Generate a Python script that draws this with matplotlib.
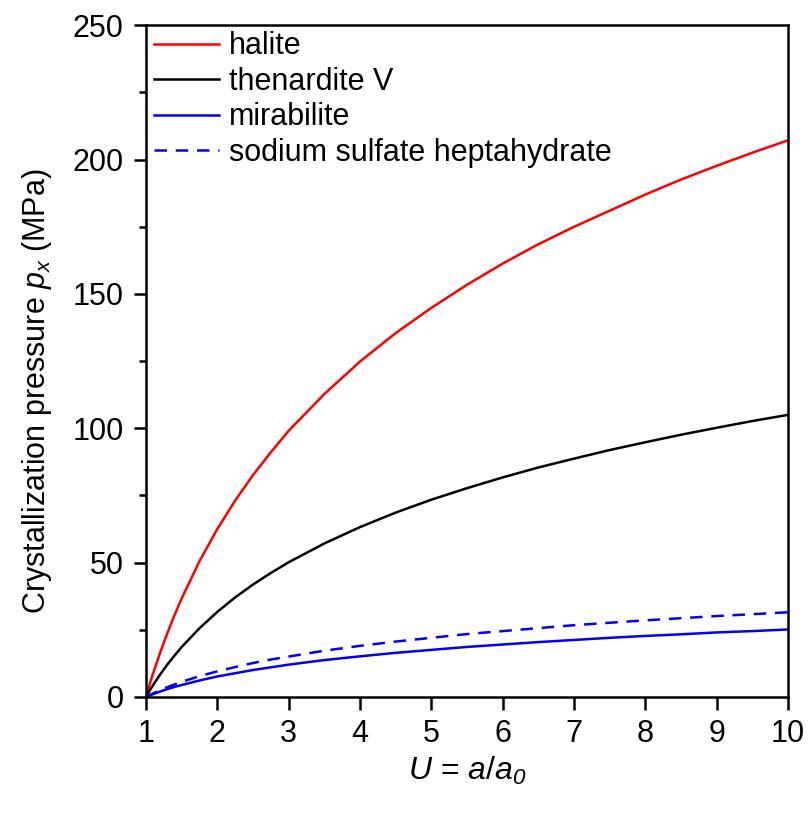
import numpy as np
import matplotlib
matplotlib.use('Agg')
import matplotlib.pyplot as plt
from matplotlib.ticker import MultipleLocator

plt.rcParams['font.family'] = ['Liberation Sans', 'DejaVu Sans']
plt.rcParams['mathtext.fontset'] = 'custom'
plt.rcParams['mathtext.it'] = 'Liberation Sans:italic'
plt.rcParams['mathtext.rm'] = 'Liberation Sans'
plt.rcParams['mathtext.sf'] = 'Liberation Sans:italic'

# values
U = [1, 1.1, 1.2, 1.3, 1.4, 1.5, 1.75, 2, 2.25, 2.5, 2.75, 3, 3.5, 4, 4.5,
     5, 5.5, 6, 6.5, 7, 7.5, 8, 8.5, 9, 9.5, 10]
halite = [0, 8.6, 16.4, 23.6, 30.3, 36.5, 50.4, 62.4, 73, 82.5, 91, 99,
          112.7, 124.8, 135.4, 144.8, 153.4, 161.3, 168.5, 175, 181, 187,
          192.6, 197.7, 202.6, 207.2]
thenardite = [0, 4.3, 8.3, 12, 15.3, 18.5, 25.5, 31.6, 37, 41.8, 46.1, 50.1,
              57.1, 63.2, 68.6, 73.4, 77.7, 81.7, 85.4, 88.7, 91.9, 94.8,
              97.6, 100.2, 102.7, 105]
mirabilite = [0, 1, 2, 2.9, 3.7, 4.4, 6.1, 7.6, 8.8, 10, 11, 12, 13.7, 15.1,
              16.4, 17.5, 18.6, 19.5, 20.4, 21.2, 22, 22.7, 23.3, 24, 24.5, 25.1]
heptahydrate = [0, 1.3, 2.5, 3.6, 4.6, 5.6, 7.7, 9.5, 11.1, 12.6, 13.9, 15,
                17.2, 19, 20.6, 22, 23.4, 24.5, 25.6, 26.7, 27.6, 28.5, 29.3,
                30.1, 30.8, 31.5]

fig = plt.figure(figsize=(8.1, 8.17), dpi=100)
ax = fig.add_axes([0.180, 0.147, 0.793, 0.822])

ax.plot(U, halite, color='#ff0000', lw=1.8, label='halite')
ax.plot(U, thenardite, color='black', lw=1.8, label='thenardite V')
ax.plot(U, mirabilite, color='#0000ff', lw=1.8, label='mirabilite')
ax.plot(U, heptahydrate, color='#0000ff', lw=1.8, ls=(0, (5, 3.5)),
        label='sodium sulfate heptahydrate')

ax.set_xlim(1, 10)
ax.set_ylim(0, 250)
ax.xaxis.set_major_locator(MultipleLocator(1))
ax.yaxis.set_major_locator(MultipleLocator(50))
ax.yaxis.set_minor_locator(MultipleLocator(25))
ax.tick_params(which='both', direction='out', width=1.8, labelsize=22,
               top=False, right=False)
ax.tick_params(which='major', length=9)
ax.tick_params(which='minor', length=5)
ax.tick_params(axis='x', pad=7)
ax.tick_params(axis='y', pad=7)
for s in ax.spines.values():
    s.set_linewidth(1.8)

ax.set_xlabel(r'$U$ = $a$/$a_{\mathsf{0}}$', fontsize=23, labelpad=4)
ax.set_ylabel(r'Crystallization pressure $p_x$ (MPa)', fontsize=22)
ax.yaxis.set_label_coords(-0.143, 0.455)

ax.legend(loc='upper left', frameon=False, fontsize=22, handlelength=2.1,
          handletextpad=0.35, labelspacing=0.18, borderaxespad=0.1,
          borderpad=0.1, bbox_to_anchor=(0.004, 1.0))

fig.savefig('out.png', dpi=100)
